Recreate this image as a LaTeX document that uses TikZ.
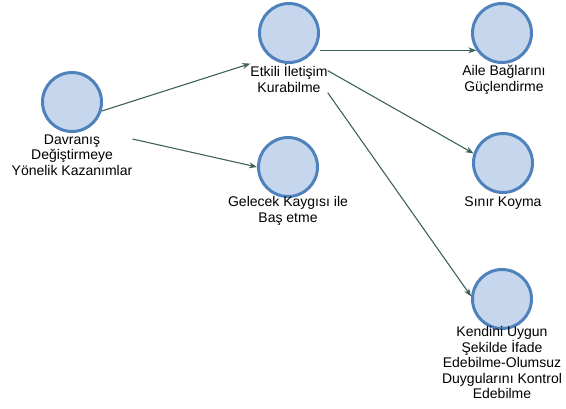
\documentclass[tikz,border=0pt]{standalone}
\usepackage{fontspec}
\setmainfont{Liberation Sans}
\usetikzlibrary{arrows.meta}
\definecolor{nodefill}{RGB}{198,214,236}
\definecolor{nodeline}{RGB}{79,129,189}
\definecolor{linkcol}{RGB}{62,98,90}
\tikzset{
  circ/.style={circle, draw=nodeline, fill=nodefill, line width=3pt, minimum size=59pt, inner sep=0pt},
  lbl/.style={anchor=north, align=center, inner sep=0pt, text=black,
    font=\fontsize{14}{15.5}\selectfont},
  arr/.style={draw=linkcol, line width=1.1pt, -{Stealth[length=8pt,width=6pt]}},
}
\newcommand{\fl}{\rule{0pt}{13pt}}
\begin{document}
\begin{tikzpicture}[x=1pt,y=-1pt]
\useasboundingbox (0,0) rectangle (566,408);
% circles
\node[circ] (d) at (72,102) {};
\node[circ] (e) at (289,33) {};
\node[circ] (a) at (502,33) {};
\node[circ] (s) at (503,163) {};
\node[circ] (g) at (288,167) {};
\node[circ] (k) at (502,299) {};
% captions under the circles
\node[lbl] (dl) at (72,131) {\fl Davranış\\Değiştirmeye\\Yönelik Kazanımlar};
\node[lbl] (el) at (289,63.6) {\fl Etkili İletişim\\Kurabilme};
\node[lbl] (al) at (504,62.3) {\fl Aile Bağlarını\\Güçlendirme};
\node[lbl] (sl) at (503,193.6) {\fl Sınır Koyma};
\node[lbl] (gl) at (288,193.6) {\fl Gelecek Kaygısı ile\\Baş etme};
\node[lbl] (kl) at (502,323.6) {\fl Kendini Uygun\\Şekilde İfade\\Edebilme-Olumsuz\\Duygularını Kontrol\\Edebilme};
% links
\draw[arr] (d.-17) -- (el.north west);
\draw[arr] ([yshift=-8pt]dl.north east) -- (g.west);
\draw[arr] (e.east |- a.-146) -- (a.-146);
\draw[arr] ([yshift=-7pt]el.north east) -- (s.162);
\draw[arr] (el.south east) -- (k.175);
\end{tikzpicture}
\end{document}
